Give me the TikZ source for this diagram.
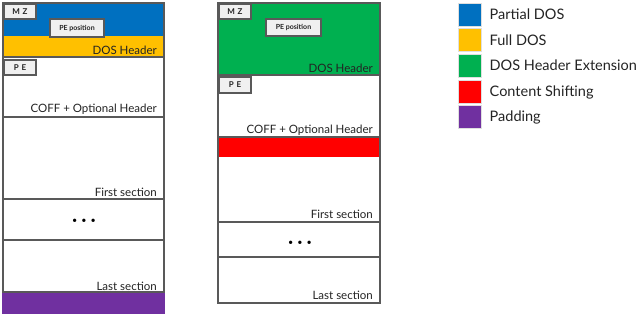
\documentclass[tikz,border=0pt]{standalone}
\usepackage{fontspec}
\setmainfont{Lato}
\usetikzlibrary{positioning}
\definecolor{partialdos}{RGB}{0,112,192}
\definecolor{fulldos}{RGB}{255,192,0}
\definecolor{dosext}{RGB}{0,176,80}
\definecolor{shifting}{RGB}{255,0,0}
\definecolor{padding}{RGB}{112,48,160}
\definecolor{frame}{RGB}{89,89,89}
\definecolor{tag}{RGB}{240,240,240}
\definecolor{ink}{RGB}{35,35,35}

\tikzset{
  blk/.style={draw=frame, line width=2pt},
  tagbox/.style={draw=frame, fill=tag, line width=2pt, inner sep=0pt,
    anchor=north west, font=\bfseries\fontsize{8}{9}\selectfont, text=ink},
  lbl/.style={anchor=base east, inner sep=0pt, text=ink,
    font=\fontsize{11.5}{13}\selectfont},
  key/.style={minimum size=23pt, inner sep=0pt, outer sep=0pt,
    draw=white!75!gray, line width=0.6pt},
  keytext/.style={inner sep=0pt, text height=10pt, text depth=0pt, text=ink,
    font=\fontsize{14.5}{16}\selectfont}
}

\begin{document}
\begin{tikzpicture}[x=1pt,y=-1pt]
\useasboundingbox (0,0) rectangle (640,316);

% original file
\fill[partialdos] (3,3) rectangle (164,36);
\fill[fulldos] (3,36) rectangle (164,57);
\fill[padding] (2,293) rectangle (165,314);
\draw[blk] (3,3) rectangle (164,292);
\foreach \y in {57,117,199,240} {
  \draw[blk] (3,\y) -- (164,\y);
}
\node[tagbox, minimum width=32pt, minimum height=15pt] (lmz) at (3,3) {M\,\,Z};
\node[tagbox, minimum width=54pt, minimum height=18pt] (lpepos) at (49,18) {\fontsize{7}{8}\selectfont PE position};
\node[tagbox, minimum width=32pt, minimum height=15pt] (lpe) at (3,59) {P\,\,E};
\node[lbl] (ldos) at (157,54) {DOS Header};
\node[lbl] (lcoff) at (157,112) {COFF + Optional Header};
\node[lbl] (lfirst) at (157,196) {First section};
\node[font=\fontsize{9}{9}\selectfont] (ldots) at (84,221) {\textbullet\hspace{4pt}\textbullet\hspace{4pt}\textbullet};
\node[lbl] (llast) at (157,290) {Last section};

% modified file
\fill[dosext] (218,3) rectangle (380,75);
\fill[shifting] (218,138) rectangle (380,157);
\draw[blk] (218,3) rectangle (380,303);
\foreach \y in {75,137,222,257} {
  \draw[blk] (218,\y) -- (380,\y);
}
\node[tagbox, minimum width=32pt, minimum height=15pt] (rmz) at (218,3) {M\,\,Z};
\node[tagbox, minimum width=55pt, minimum height=17pt] (rpepos) at (265,18) {\fontsize{7}{8}\selectfont PE position};
\node[tagbox, minimum width=32pt, minimum height=16pt] (rpe) at (218,76) {P\,\,E};
\node[lbl] (rdos) at (373,72.5) {DOS Header};
\node[lbl] (rcoff) at (373,133) {COFF + Optional Header};
\node[lbl] (rfirst) at (373,218) {First section};
\node[font=\fontsize{9}{9}\selectfont] (rdots) at (300,243) {\textbullet\hspace{4pt}\textbullet\hspace{4pt}\textbullet};
\node[lbl] (rlast) at (373,299) {Last section};

% legend
\node[key, fill=partialdos] (kpartial) at (470,14.5) {};
\node[key, fill=fulldos, below=2.6pt of kpartial] (kfull) {};
\node[key, fill=dosext, below=2.6pt of kfull] (kext) {};
\node[key, fill=shifting, below=2.6pt of kext] (kshift) {};
\node[key, fill=padding, below=2.6pt of kshift] (kpad) {};
\node[keytext, right=8pt of kpartial] (tpartial) {Partial DOS};
\node[keytext, right=8pt of kfull] (tfull) {Full DOS};
\node[keytext, right=8pt of kext] (text) {DOS Header Extension};
\node[keytext, right=8pt of kshift] (tshift) {Content Shifting};
\node[keytext, right=8pt of kpad] (tpad) {Padding};
\end{tikzpicture}
\end{document}
